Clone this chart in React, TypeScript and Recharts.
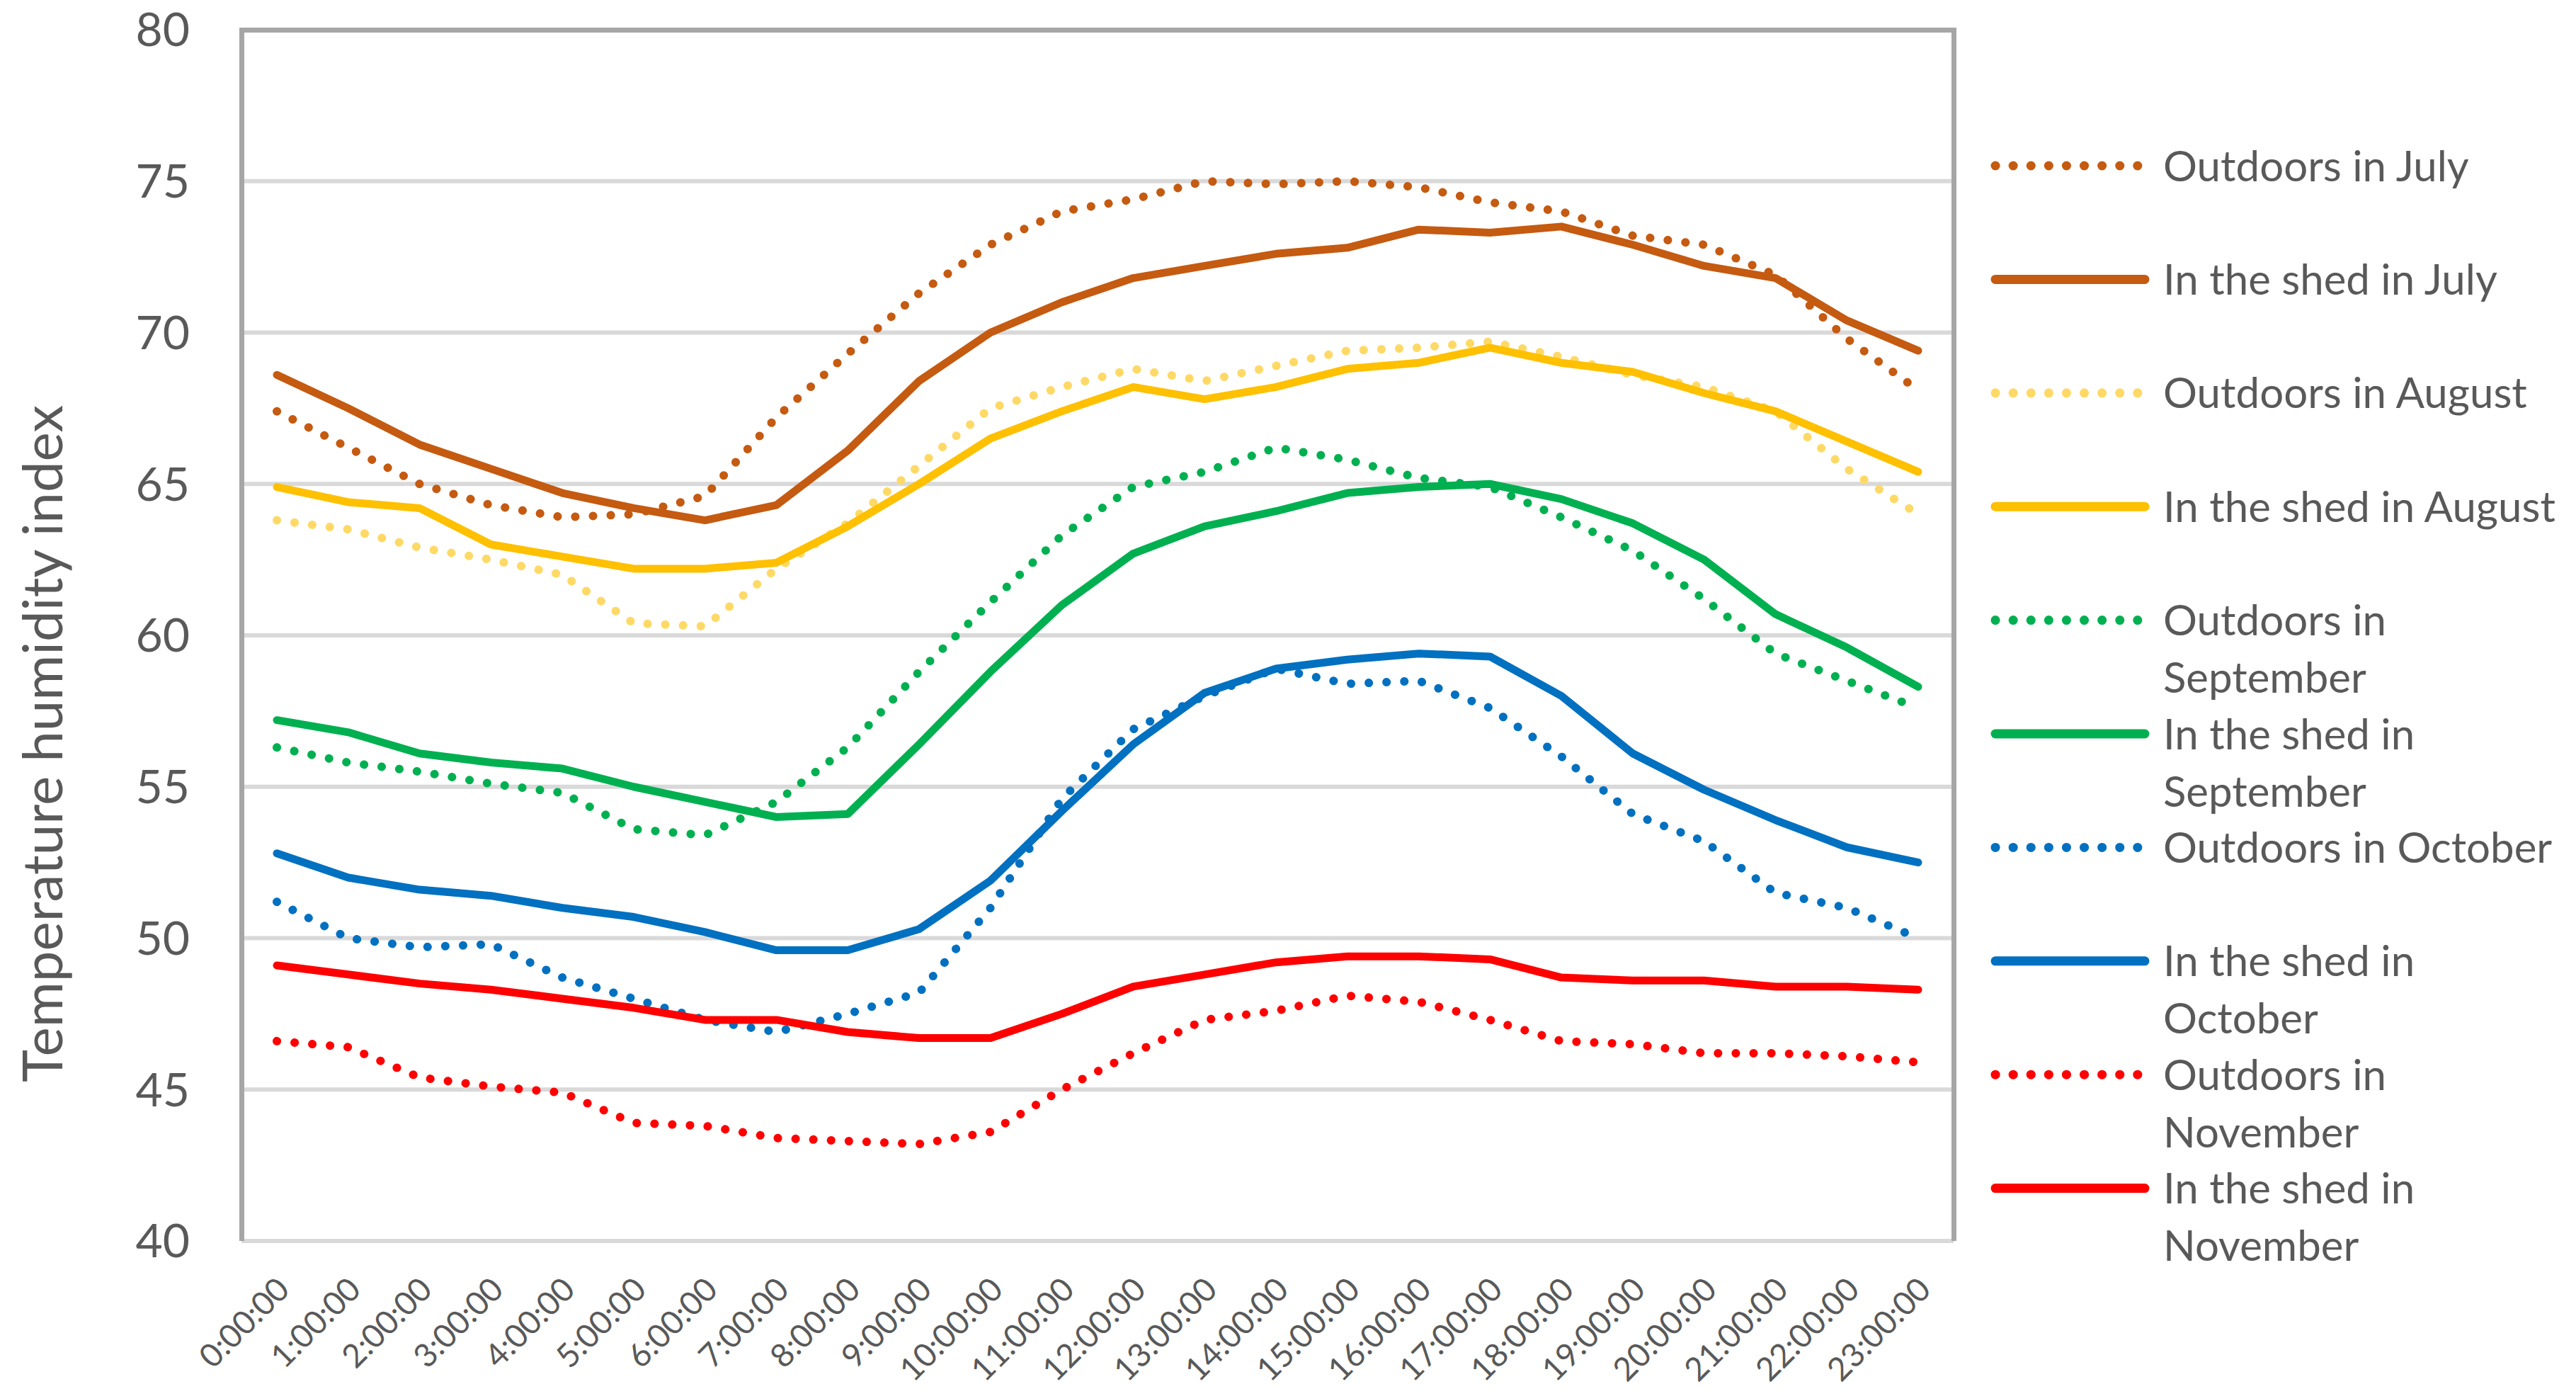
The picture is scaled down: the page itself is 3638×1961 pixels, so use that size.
import React from 'react';
import { LineChart, Line, XAxis, YAxis, CartesianGrid } from 'recharts';

const hours = [
  '0:00:00', '1:00:00', '2:00:00', '3:00:00', '4:00:00', '5:00:00', '6:00:00', '7:00:00',
  '8:00:00', '9:00:00', '10:00:00', '11:00:00', '12:00:00', '13:00:00', '14:00:00', '15:00:00',
  '16:00:00', '17:00:00', '18:00:00', '19:00:00', '20:00:00', '21:00:00', '22:00:00', '23:00:00',
];

const outdoorsJuly = [67.4, 66.2, 65.0, 64.3, 63.9, 64.0, 64.6, 67.2, 69.3, 71.3, 72.9, 74.0, 74.4, 75.0, 74.9, 75.0, 74.8, 74.3, 74.0, 73.2, 72.9, 71.9, 69.8, 68.1];
const shedJuly = [68.6, 67.5, 66.3, 65.5, 64.7, 64.2, 63.8, 64.3, 66.1, 68.4, 70.0, 71.0, 71.8, 72.2, 72.6, 72.8, 73.4, 73.3, 73.5, 72.9, 72.2, 71.8, 70.4, 69.4];
const outdoorsAugust = [63.8, 63.5, 62.9, 62.5, 62.0, 60.4, 60.3, 62.2, 63.7, 65.6, 67.5, 68.2, 68.8, 68.4, 68.9, 69.4, 69.5, 69.7, 69.2, 68.6, 68.2, 67.4, 65.5, 64.0];
const shedAugust = [64.9, 64.4, 64.2, 63.0, 62.6, 62.2, 62.2, 62.4, 63.6, 65.0, 66.5, 67.4, 68.2, 67.8, 68.2, 68.8, 69.0, 69.5, 69.0, 68.7, 68.0, 67.4, 66.4, 65.4];
const outdoorsSeptember = [56.3, 55.8, 55.5, 55.1, 54.8, 53.6, 53.4, 54.5, 56.3, 58.8, 61.1, 63.3, 64.9, 65.4, 66.2, 65.8, 65.2, 64.9, 63.9, 62.8, 61.2, 59.4, 58.5, 57.6];
const shedSeptember = [57.2, 56.8, 56.1, 55.8, 55.6, 55.0, 54.5, 54.0, 54.1, 56.4, 58.8, 61.0, 62.7, 63.6, 64.1, 64.7, 64.9, 65.0, 64.5, 63.7, 62.5, 60.7, 59.6, 58.3];
const outdoorsOctober = [51.2, 50.0, 49.7, 49.8, 48.7, 48.0, 47.3, 46.9, 47.5, 48.2, 51.0, 54.6, 56.9, 58.0, 58.9, 58.4, 58.5, 57.6, 56.0, 54.1, 53.2, 51.5, 51.0, 50.0];
const shedOctober = [52.8, 52.0, 51.6, 51.4, 51.0, 50.7, 50.2, 49.6, 49.6, 50.3, 51.9, 54.2, 56.4, 58.1, 58.9, 59.2, 59.4, 59.3, 58.0, 56.1, 54.9, 53.9, 53.0, 52.5];
const outdoorsNovember = [46.6, 46.4, 45.4, 45.1, 44.9, 43.9, 43.8, 43.4, 43.3, 43.2, 43.6, 45.0, 46.2, 47.3, 47.6, 48.1, 47.9, 47.3, 46.6, 46.5, 46.2, 46.2, 46.1, 45.9];
const shedNovember = [49.1, 48.8, 48.5, 48.3, 48.0, 47.7, 47.3, 47.3, 46.9, 46.7, 46.7, 47.5, 48.4, 48.8, 49.2, 49.4, 49.4, 49.3, 48.7, 48.6, 48.6, 48.4, 48.4, 48.3];

const yTicks = [40, 45, 50, 55, 60, 65, 70, 75, 80];

const series = [
  { key: 'oJul', values: outdoorsJuly, color: '#C55A11', dotted: true, label: ['Outdoors in July'] },
  { key: 'sJul', values: shedJuly, color: '#C55A11', dotted: false, label: ['In the shed in July'] },
  { key: 'oAug', values: outdoorsAugust, color: '#FFD966', dotted: true, label: ['Outdoors in August'] },
  { key: 'sAug', values: shedAugust, color: '#FFC000', dotted: false, label: ['In the shed in August'] },
  { key: 'oSep', values: outdoorsSeptember, color: '#00B050', dotted: true, label: ['Outdoors in', 'September'] },
  { key: 'sSep', values: shedSeptember, color: '#00B050', dotted: false, label: ['In the shed in', 'September'] },
  { key: 'oOct', values: outdoorsOctober, color: '#0070C0', dotted: true, label: ['Outdoors in October'] },
  { key: 'sOct', values: shedOctober, color: '#0070C0', dotted: false, label: ['In the shed in', 'October'] },
  { key: 'oNov', values: outdoorsNovember, color: '#FF0000', dotted: true, label: ['Outdoors in', 'November'] },
  { key: 'sNov', values: shedNovember, color: '#FF0000', dotted: false, label: ['In the shed in', 'November'] },
];

const data = hours.map((time, i) => {
  const row: Record<string, string | number> = { time };
  series.forEach((s) => { row[s.key] = s.values[i]; });
  return row;
});

const FONT = "Lato, 'Noto Sans', sans-serif";
const TEXT = '#595959';
const DOTS = '0.1 25';

// plot box (matches chart margins / axis sizes below)
const PLOT_LEFT = 341;
const PLOT_RIGHT = 2759;
const PLOT_TOP = 42;
const PLOT_BOTTOM = 1752;
const FRAME = 7;

const XTick = ({ x, y, payload }: any) => {
  const ax = x + 9;
  const ay = y + 60;
  return (
    <text x={ax} y={ay} dy="0.35em" textAnchor="end" transform={`rotate(-45, ${ax}, ${ay})`}
      fontSize={46} fill={TEXT} fontFamily={FONT}>
      {payload.value}
    </text>
  );
};

function ChartLegend() {
  return (
    <svg width={838} height={1961} style={{ position: 'absolute', left: 2800, top: 0 }}>
      {series.map((s, i) => {
        const cy = 234 + i * 160.4;
        return (
          <g key={s.key}>
            {s.dotted ? (
              <line x1={18} x2={219} y1={cy} y2={cy} stroke={s.color} strokeWidth={13}
                strokeDasharray={DOTS} strokeLinecap="round" />
            ) : (
              <line x1={18} x2={229} y1={cy} y2={cy} stroke={s.color} strokeWidth={13} strokeLinecap="round" />
            )}
            {s.label.map((t, j) => (
              <text key={j} x={255} y={cy + j * 81} dy="0.36em" fontSize={60} fill={TEXT} fontFamily={FONT}>
                {t}
              </text>
            ))}
          </g>
        );
      })}
    </svg>
  );
}

export default function App() {
  return (
    <div style={{ position: 'absolute', left: 0, top: 0, width: 3638, height: 1961, background: '#fff' }}>
      <LineChart width={3638} height={1961} data={data} margin={{ top: PLOT_TOP, right: 3638 - PLOT_RIGHT, bottom: 0, left: 0 }}>
        <CartesianGrid vertical={false} stroke="#D9D9D9" strokeWidth={6} />
        <XAxis dataKey="time" interval={0} padding={{ left: 50, right: 50 }} height={1961 - PLOT_BOTTOM}
          tickLine={false} tickSize={0} tickMargin={0} tick={<XTick />}
          axisLine={{ stroke: '#D9D9D9', strokeWidth: 6 }} />
        <YAxis domain={[40, 80]} ticks={yTicks} width={PLOT_LEFT} tickLine={false} tickSize={0} tickMargin={73}
          axisLine={false}
          tick={{ fontSize: 66, fill: TEXT, fontFamily: FONT }}
          label={{
            content: () => (
              <text x={60} y={1050} transform="rotate(-90, 60, 1050)" textAnchor="middle" dy="0.36em"
                fontSize={78} fill={TEXT} fontFamily={FONT}>
                Temperature humidity index
              </text>
            ),
          }} />
        {series.map((s) => (
          <Line key={s.key} dataKey={s.key} type="linear" stroke={s.color}
            strokeWidth={s.dotted ? 12 : 11}
            strokeDasharray={s.dotted ? DOTS : undefined}
            strokeLinecap="round" strokeLinejoin="round"
            dot={false} activeDot={false} isAnimationActive={false} />
        ))}
      </LineChart>
      {/* plot area frame: grey on top, left and right */}
      <div style={{
        position: 'absolute', left: PLOT_LEFT - FRAME / 2, top: PLOT_TOP - FRAME / 2,
        width: PLOT_RIGHT - PLOT_LEFT - FRAME, height: PLOT_BOTTOM - PLOT_TOP - FRAME / 2,
        borderTop: `${FRAME}px solid #A6A6A6`, borderLeft: `${FRAME}px solid #A6A6A6`, borderRight: `${FRAME}px solid #A6A6A6`,
        pointerEvents: 'none',
      }} />
      <ChartLegend />
    </div>
  );
}
